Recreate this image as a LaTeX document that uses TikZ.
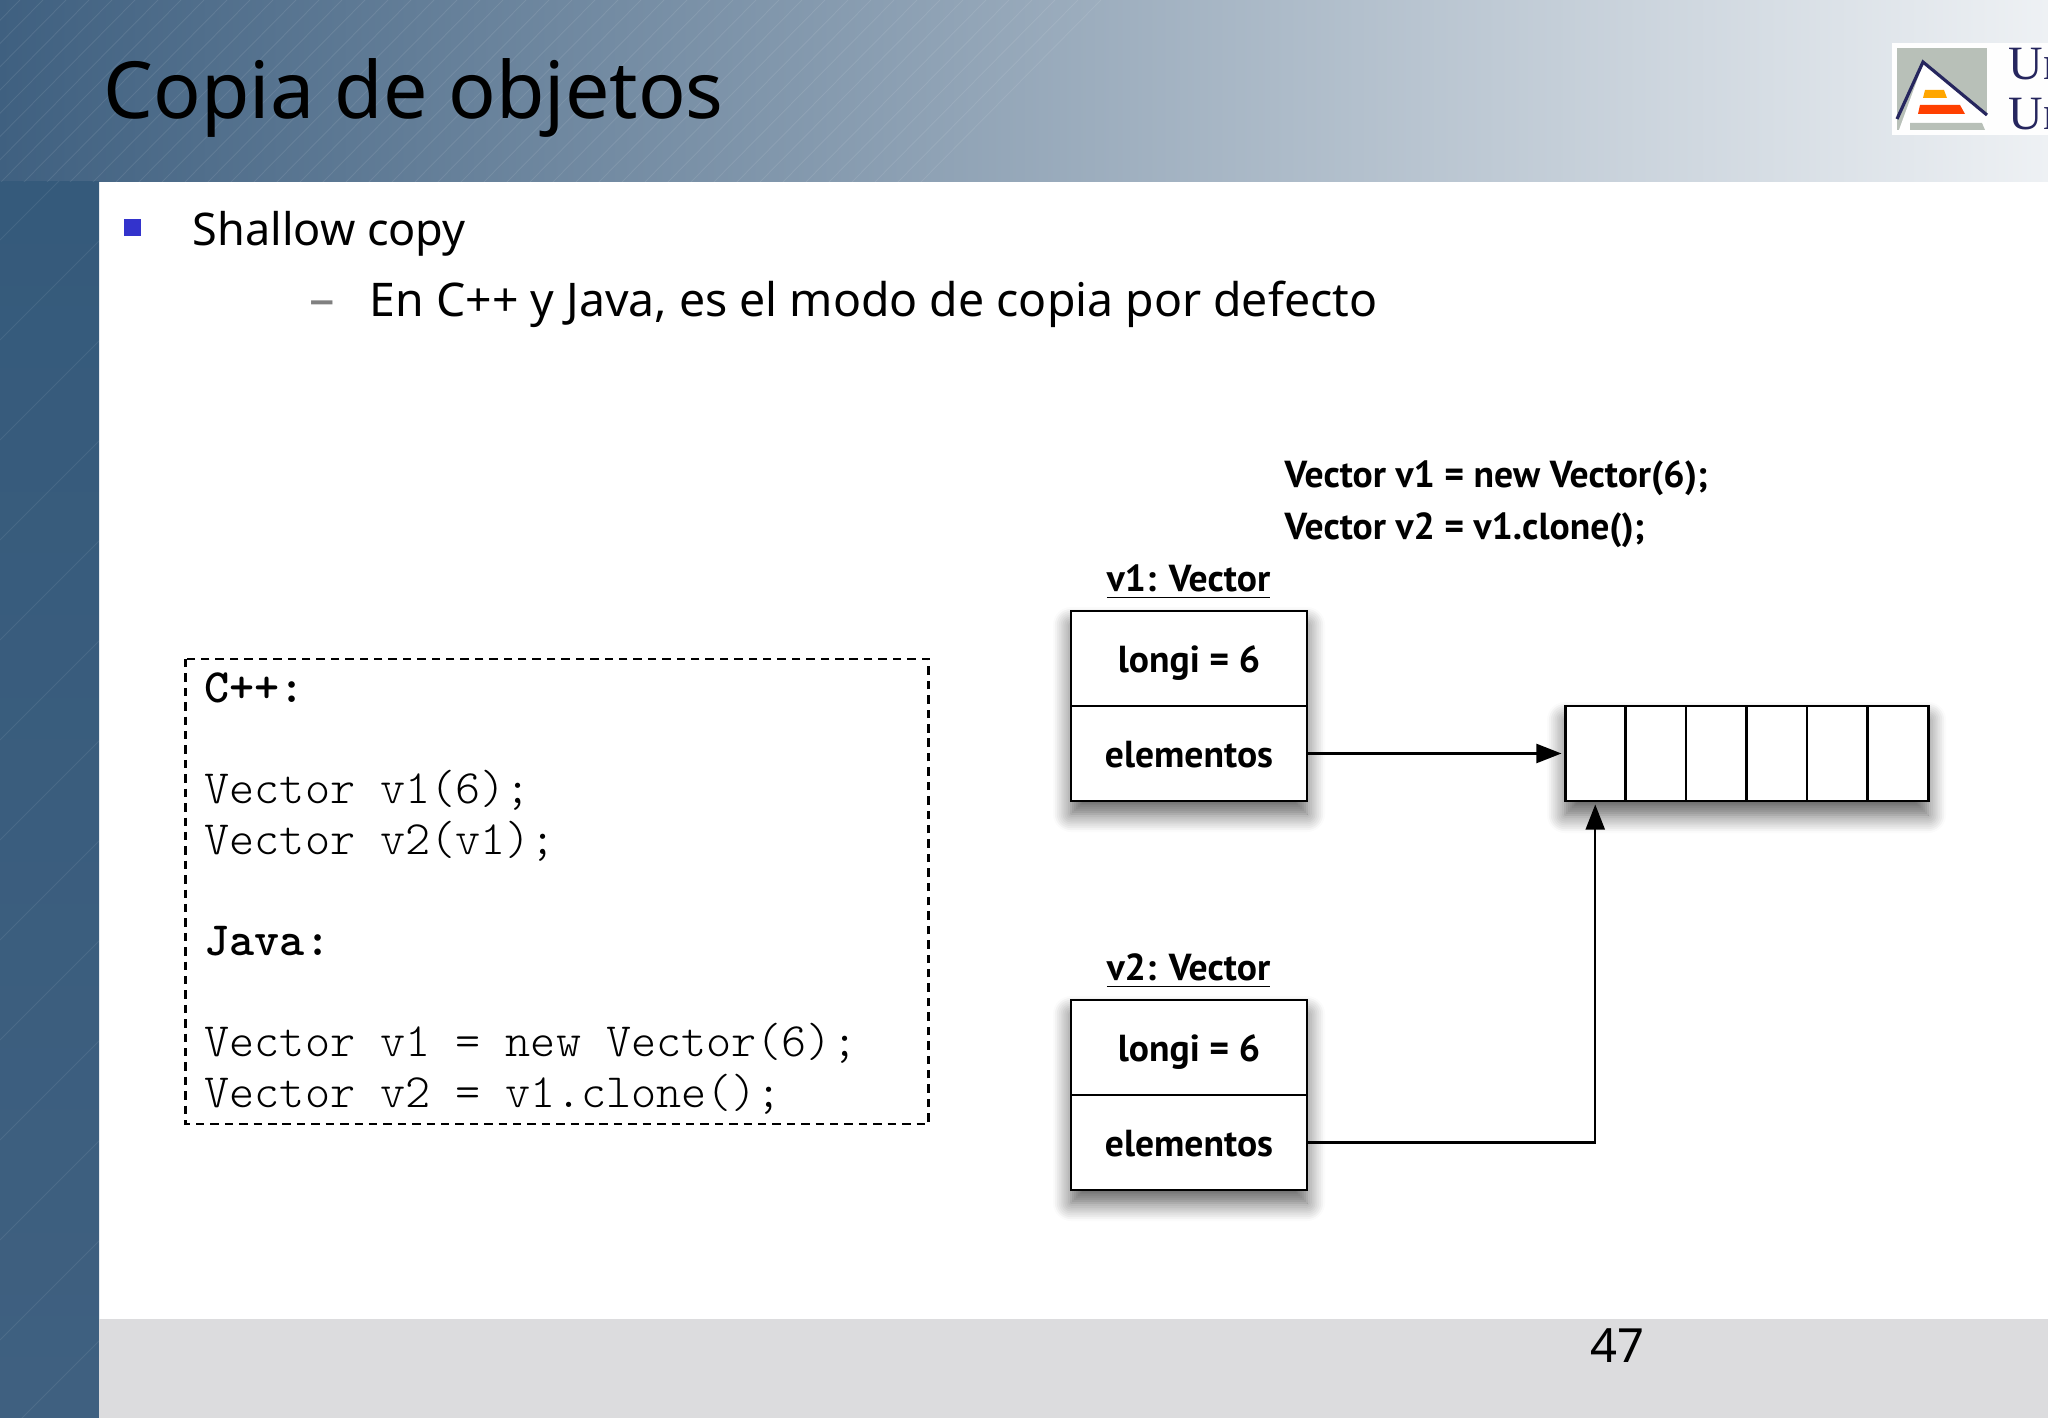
\documentclass[tikz,border=0pt]{standalone}
\usepackage{fontspec}
\usepackage{tikz}
\usetikzlibrary{arrows.meta,positioning,shadows.blur}
\setmainfont{Noto Sans}
\newfontfamily\figfont{PT Sans}
\newfontfamily\logofont{Liberation Serif}
\definecolor{headleft}{HTML}{3F6080}
\definecolor{headmid}{HTML}{98A9BB}
\definecolor{headright}{HTML}{EEF1F4}
\definecolor{sidetop}{HTML}{355A7B}
\definecolor{sidebottom}{HTML}{3F6080}
\definecolor{footgray}{HTML}{DCDCDE}
\definecolor{bulletblue}{HTML}{3333CC}
\definecolor{logogray}{HTML}{B8C0B8}
\definecolor{logonavy}{HTML}{26265E}
\tikzset{
    cellbox/.style={draw=black, line width=0.85pt, fill=white, minimum height=0.95cm, inner sep=0pt, outer sep=0pt},
    fieldbox/.style={cellbox, minimum width=2.36cm, text height=8pt, text depth=0pt, font=\figfont\fontsize{10.7}{12}\bfseries},
    slotbox/.style={cellbox, minimum width=0.605cm},
    shadowed/.style={blur shadow={shadow xshift=0pt, shadow yshift=-0.14cm, shadow blur steps=10, shadow blur radius=0.18cm, shadow opacity=65}},
    figlabel/.style={anchor=base west, inner sep=0pt, font=\figfont\fontsize{10.7}{12}\bfseries},
    boxlabel/.style={anchor=base, inner sep=0pt, font=\figfont\fontsize{10.7}{12}\bfseries},
    logotext/.style={anchor=base west, inner sep=0pt, text=logonavy, font=\logofont\fontsize{13.6}{15}\selectfont},
    link/.style={draw=black, line width=0.6pt, shorten >=1pt, -{Triangle[length=2.5mm,width=1.9mm]}}
}

\begin{document}
\begin{tikzpicture}
    \useasboundingbox (0,0) rectangle (20.48,-14.18);

    % Background bands
    \shade[left color=headleft, middle color=headmid, right color=headright] (0,0) rectangle (20.48,-1.82);
    \shade[top color=sidetop, bottom color=sidebottom] (0,-1.82) rectangle (0.99,-14.18);
    \fill[footgray] (0.99,-13.19) rectangle (20.48,-14.18);
    \begin{scope}
        \clip (0,0) rectangle (20.48,-1.82);
        \foreach \x in {0,0.23,...,11}
            \draw[white, opacity=0.09, line width=0.25pt] (\x-1.6,-1.82) -- (\x+0.2,0);
    \end{scope}
    \begin{scope}
        \clip (0,-1.82) rectangle (0.99,-14.18);
        \foreach \y in {-1.4,-2.4,...,-14}
            \draw[white, opacity=0.08, line width=0.25pt] (0,\y-1) -- (1,\y);
    \end{scope}

    % Logo
    \fill[white!92!headright] (18.92,-0.43) rectangle (20.48,-1.35);
    \fill[logogray] (18.97,-0.48) rectangle (19.87,-1.30);
    \fill[white] (18.99,-1.30) -- (19.23,-0.64) -- (19.87,-1.15) -- (19.87,-1.30) -- cycle;
    \fill[logogray] (19.10,-1.23) -- (19.82,-1.23) -- (19.85,-1.30) -- (19.10,-1.30) -- cycle;
    \draw[logonavy, line width=0.9pt] (18.97,-1.19) -- (19.23,-0.62) -- (19.87,-1.15);
    \fill[orange!70!yellow] (19.25,-0.90) -- (19.44,-0.90) -- (19.47,-0.98) -- (19.23,-0.98) -- cycle;
    \fill[orange!50!red] (19.20,-1.05) -- (19.60,-1.05) -- (19.65,-1.14) -- (19.18,-1.14) -- cycle;
    \begin{scope}
        \clip (19.9,0) rectangle (20.48,-1.82);
        \node[logotext] (logo_top) at (20.08,-0.80) {Un};
        \node[logotext] (logo_bottom) at (20.08,-1.30) {Un};
    \end{scope}

    % Title and bullets
    \node[anchor=base west, inner sep=0pt, font=\fontsize{22.45}{28}\selectfont] (title) at (1.03,-1.19) {Copia de objetos};
    \node[fill=bulletblue, minimum size=0.17cm, inner sep=0pt, anchor=north west] (bullet) at (1.23,-2.18) {};
    \node[anchor=base west, inner sep=0pt, font=\fontsize{12.8}{16}\selectfont] (shallow) at (1.92,-2.46) {Shallow copy};
    \node[anchor=base west, inner sep=0pt, text=gray, font=\fontsize{14.5}{16}\selectfont] (dash) at (3.09,-3.17) {--};
    \node[anchor=base west, inner sep=0pt, font=\fontsize{13.2}{16}\selectfont] (defecto) at (3.69,-3.17) {En C++ y Java, es el modo de copia por defecto};

    % Code listing
    \draw[black, line width=0.6pt, dash pattern=on 2.4pt off 1.7pt] (1.855,-6.59) rectangle (9.285,-11.24);
    \node[anchor=north west, inner sep=0pt, align=left, font=\ttfamily\fontseries{l}\selectfont\fontsize{13.6}{14.4}\selectfont] (code) at (2.04,-6.72) {
        \textbf{C++:}\\
        \\
        Vector v1(6);\\
        Vector v2(v1);\\
        \\
        \textbf{Java:}\\
        \\
        Vector v1 = new Vector(6);\\
        Vector v2 = v1.clone();
    };

    % Statements above the objects
    \node[figlabel] (stmt_new) at (12.84,-4.88) {Vector v1 = new Vector(6);};
    \node[figlabel] (stmt_clone) at (12.84,-5.40) {Vector v2 = v1.clone();};

    % Object v1
    \node[boxlabel] (v1_label) at (11.885,-5.92) {\underline{v1: Vector}};
    \node[fieldbox, shadowed, minimum height=1.89cm, anchor=north] (v1_shadow) at (11.89,-6.11) {};
    \node[fieldbox, anchor=north] (v1_longi) at (11.89,-6.11) {longi = 6};
    \node[fieldbox, below=0pt of v1_longi] (v1_elem) {elementos};

    % Shared array
    \node[cellbox, shadowed, minimum width=3.63cm, minimum height=0.95cm, anchor=north west] (array_shadow) at (15.65,-7.06) {};
    \node[slotbox, anchor=north west] (slot1) at (15.65,-7.06) {};
    \foreach \i [remember=\i as \last (initially 1)] in {2,...,6}
        \node[slotbox, right=0pt of slot\last] (slot\i) {};

    % Object v2
    \node[boxlabel] (v2_label) at (11.885,-9.81) {\underline{v2: Vector}};
    \node[fieldbox, shadowed, minimum height=1.89cm, anchor=north] (v2_shadow) at (11.89,-10.00) {};
    \node[fieldbox, anchor=north] (v2_longi) at (11.89,-10.00) {longi = 6};
    \node[fieldbox, below=0pt of v2_longi] (v2_elem) {elementos};

    % References
    \draw[link] (v1_elem.east) -- (slot1.west);
    \draw[link] (v2_elem.east) -| (slot1.south);

    % Page number
    \node[anchor=base west, inner sep=0pt, font=\fontsize{13.4}{16}\selectfont] (page) at (15.90,-13.63) {47};
\end{tikzpicture}
\end{document}
